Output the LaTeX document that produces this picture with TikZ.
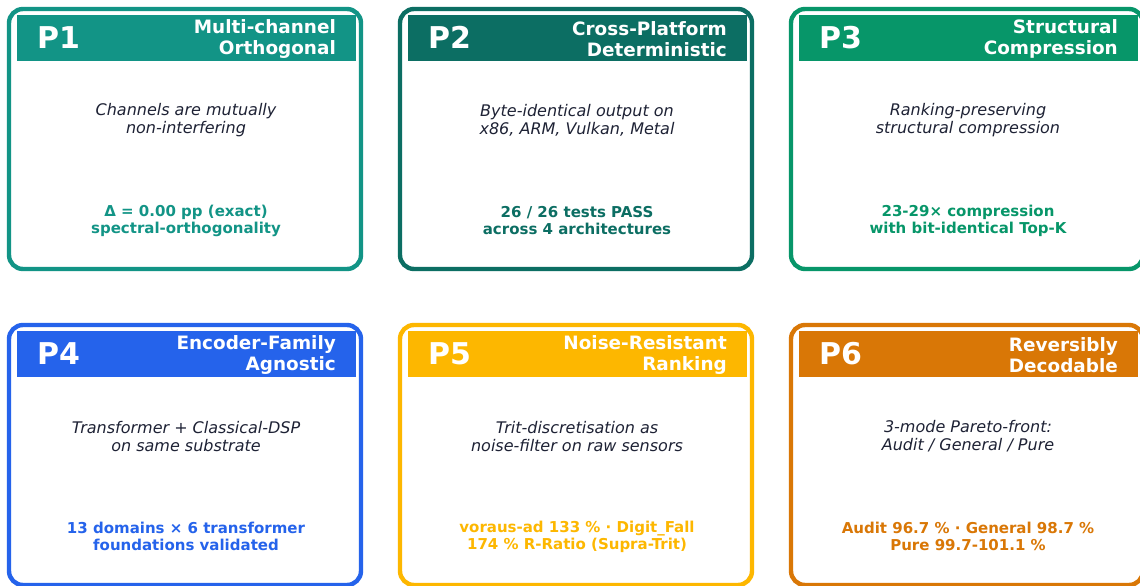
\documentclass[tikz,border=0pt]{standalone}
\usepackage{fontspec}
\setmainfont{DejaVu Sans}
\definecolor{cone}{HTML}{129486}
\definecolor{ctwo}{HTML}{0C6E63}
\definecolor{cthree}{HTML}{079669}
\definecolor{cfour}{HTML}{2563EB}
\definecolor{cfive}{HTML}{FDB700}
\definecolor{csix}{HTML}{D97706}
\definecolor{bodytxt}{HTML}{1E2235}
\tikzset{
  cardbox/.style={draw=#1, line width=4.4pt, rounded corners=14pt, fill=white,
    minimum width=352pt, minimum height=260pt, inner sep=0pt},
  headbar/.style={fill=#1, minimum width=339pt, minimum height=46pt, inner sep=0pt},
  plabel/.style={text=white, font=\bfseries\fontsize{30}{32}\selectfont, anchor=west, inner sep=0pt},
  titletxt/.style={text=white, font=\bfseries\fontsize{18.4}{21}\selectfont, align=right, anchor=east, inner sep=0pt},
  bodytext/.style={text=bodytxt, font=\itshape\fontsize{16}{18}\selectfont, align=center, inner sep=0pt},
  keytxt/.style={text=#1, font=\bfseries\fontsize{15}{17}\selectfont, align=center, inner sep=0pt}
}
\newcommand{\mycard}[8]{%
  \node[cardbox=#4] (#1card) at ({#2+176},{#3+130}) {};
  \node[headbar=#4] (#1head) at ({#2+177.5},{#3+29}) {};
  \node[plabel] (#1p) at ({#2+28},{#3+28.5}) {#5};
  \node[titletxt] (#1title) at ({#2+327},{#3+30}) {#6};
  \node[bodytext] (#1body) at ({#2+177},{#3+111.5}) {#7};
  \node[keytxt=#4] (#1key) at ({#2+177},{#3+211.5}) {#8};
}
\begin{document}
\begin{tikzpicture}[x=1pt,y=-1pt]
\useasboundingbox (0,0) rectangle (1140,586);
\fill[white] (0,0) rectangle (1140,586);
\begin{scope}
\clip (0,0) rectangle (1140,586);
\mycard{a}{9}{9}{cone}{P1}{Multi-channel\\Orthogonal}{Channels are mutually\\non-interfering}{Δ = 0.00 pp (exact)\\spectral-orthogonality}
\mycard{b}{400}{9}{ctwo}{P2}{Cross-Platform\\Deterministic}{Byte-identical output on\\x86, ARM, Vulkan, Metal}{26 / 26 tests PASS\\across 4 architectures}
\mycard{c}{791}{9}{cthree}{P3}{Structural\\Compression}{Ranking-preserving\\structural compression}{23-29× compression\\with bit-identical Top-K}
\mycard{d}{9}{325}{cfour}{P4}{Encoder-Family\\Agnostic}{Transformer + Classical-DSP\\on same substrate}{13 domains × 6 transformer\\foundations validated}
\mycard{e}{400}{325}{cfive}{P5}{Noise-Resistant\\Ranking}{Trit-discretisation as\\noise-filter on raw sensors}{voraus-ad 133 \% · Digit\_Fall\\174 \% R-Ratio (Supra-Trit)}
\mycard{f}{791}{325}{csix}{P6}{Reversibly\\Decodable}{3-mode Pareto-front:\\Audit / General / Pure}{Audit 96.7 \% · General 98.7 \%\\Pure 99.7-101.1 \%}
\end{scope}
\end{tikzpicture}
\end{document}
